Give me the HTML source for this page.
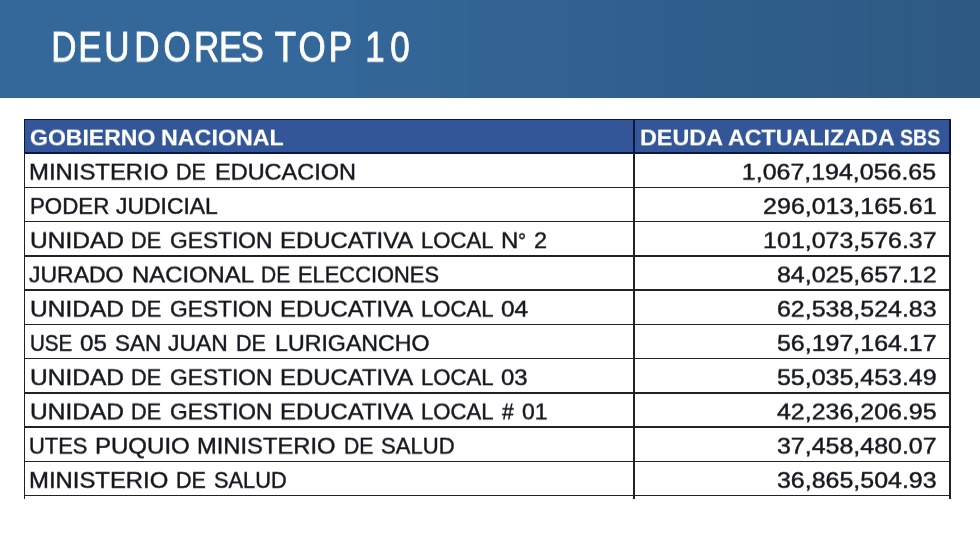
<!DOCTYPE html>
<html lang="es"><head><meta charset="utf-8"><title>DEUDORES TOP 10</title>
<style>
html,body{margin:0;padding:0;background:#fff}
html{width:980px;height:543px;overflow:hidden}
body{width:980px;height:543px;position:relative;overflow:hidden;font-family:"Liberation Sans",sans-serif}
.banner{position:absolute;left:0;top:0;width:980px;height:97.6px;background:linear-gradient(90deg,#34689b 0,#34689b 30%,#326392 51%,#2f5d8a 78%,#2d5983 100%)}
.t{position:absolute;white-space:pre;transform-origin:0 0;line-height:1em}
.n{position:absolute;white-space:pre;transform-origin:100% 0;line-height:1em;color:#15171f;-webkit-text-stroke:0.45px #15171f}
.wc{position:absolute;left:0;top:0;width:980px;height:560px;overflow:hidden;transform-origin:0 0;will-change:transform}
.hdr{position:absolute;background:#335698}
.ln{position:absolute;background:#222}
</style></head><body>
<div class="banner"></div>
<div class="hdr" style="left:24.5px;top:119.3px;width:925.5px;height:33.8px"></div>
<div class="ln" style="left:23.75px;top:118.55px;width:927.00px;height:1.5px;background:#0c1640"></div>
<div class="ln" style="left:23.75px;top:152.35px;width:927.00px;height:1.5px;background:#0c1640"></div>
<div class="ln" style="left:23.75px;top:186.60px;width:927.00px;height:1.5px;background:#222"></div>
<div class="ln" style="left:23.75px;top:220.85px;width:927.00px;height:1.5px;background:#222"></div>
<div class="ln" style="left:23.75px;top:255.10px;width:927.00px;height:1.5px;background:#222"></div>
<div class="ln" style="left:23.75px;top:289.35px;width:927.00px;height:1.5px;background:#222"></div>
<div class="ln" style="left:23.75px;top:323.60px;width:927.00px;height:1.5px;background:#222"></div>
<div class="ln" style="left:23.75px;top:357.85px;width:927.00px;height:1.5px;background:#222"></div>
<div class="ln" style="left:23.75px;top:392.10px;width:927.00px;height:1.5px;background:#222"></div>
<div class="ln" style="left:23.75px;top:426.35px;width:927.00px;height:1.5px;background:#222"></div>
<div class="ln" style="left:23.75px;top:460.60px;width:927.00px;height:1.5px;background:#222"></div>
<div class="ln" style="left:23.75px;top:494.85px;width:927.00px;height:1.5px;background:#222"></div>
<div class="ln" style="left:23.75px;top:153.10px;width:1.5px;height:345.50px"></div>
<div class="ln" style="left:23.75px;top:118.55px;width:1.5px;height:34.55px;background:#0c1640"></div>
<div class="ln" style="left:633.45px;top:153.10px;width:1.5px;height:345.50px"></div>
<div class="ln" style="left:633.45px;top:118.55px;width:1.5px;height:34.55px;background:#0c1640"></div>
<div class="ln" style="left:949.25px;top:153.10px;width:1.5px;height:345.50px"></div>
<div class="ln" style="left:949.25px;top:118.55px;width:1.5px;height:34.55px;background:#0c1640"></div>
<div class="wc" style="height:110px;transform:scaleY(0.945)">
<svg width="980" height="110" viewBox="0 0 980 110" style="position:absolute;left:0;top:0;overflow:visible"><text transform="scale(0.7947,1)" x="64.53 98.44 131.28 168.97 205.65 243.97 275.61 302.59 324.10 345.61 375.59 413.83 436.69 459.55 491.07" y="65" font-family="Liberation Sans, sans-serif" font-size="44.0" fill="#fff" stroke="#fff" stroke-width="0.9">DEUDORES TOP 10</text></svg>
</div>
<div class="wc" style="transform:scaleY(0.92568)">
<div class="r"><span class="t" style="left:30.09px;top:138px;font-size:23.4px;font-weight:700;color:#fff;transform:scaleX(0.9837);-webkit-text-stroke:0.15px #fff">GOBIERNO</span> <span class="t" style="left:161.48px;top:138px;font-size:23.4px;font-weight:700;color:#fff;transform:scaleX(0.9951);-webkit-text-stroke:0.15px #fff">NACIONAL</span></div>
<div class="r"><span class="t" style="left:639.88px;top:138px;font-size:23.4px;font-weight:700;color:#fff;transform:scaleX(0.9981);-webkit-text-stroke:0.15px #fff">DEUDA</span> <span class="t" style="left:728.43px;top:138px;font-size:23.4px;font-weight:700;color:#fff;transform:scaleX(0.9946);-webkit-text-stroke:0.15px #fff">ACTUALIZADA</span> <span class="t" style="left:900.45px;top:138px;font-size:23.4px;font-weight:700;color:#fff;transform:scaleX(0.8376);-webkit-text-stroke:0.15px #fff">SBS</span></div>
<div class="r"><span class="t" style="left:29.38px;top:175px;font-size:23.4px;font-weight:400;color:#15171f;transform:scaleX(1.0210);-webkit-text-stroke:0.45px #15171f">MINISTERIO</span> <span class="t" style="left:176.48px;top:175px;font-size:23.4px;font-weight:400;color:#15171f;transform:scaleX(0.9203);-webkit-text-stroke:0.45px #15171f">DE</span> <span class="t" style="left:214.62px;top:175px;font-size:23.4px;font-weight:400;color:#15171f;transform:scaleX(1.0048);-webkit-text-stroke:0.45px #15171f">EDUCACION</span></div>
<div class="r"><span class="n" style="right:43.72px;top:175px;font-size:23.4px;transform:scaleX(1.0669)">1,067,194,056.65</span></div>
<div class="r"><span class="t" style="left:29.72px;top:212px;font-size:23.4px;font-weight:400;color:#15171f;transform:scaleX(0.9531);-webkit-text-stroke:0.45px #15171f">PODER</span> <span class="t" style="left:115.74px;top:212px;font-size:23.4px;font-weight:400;color:#15171f;transform:scaleX(0.9796);-webkit-text-stroke:0.45px #15171f">JUDICIAL</span></div>
<div class="r"><span class="n" style="right:43.72px;top:212px;font-size:23.4px;transform:scaleX(1.0669)">296,013,165.61</span></div>
<div class="r"><span class="t" style="left:29.59px;top:249px;font-size:23.4px;font-weight:400;color:#15171f;transform:scaleX(1.0484);-webkit-text-stroke:0.45px #15171f">UNIDAD</span> <span class="t" style="left:131.27px;top:249px;font-size:23.4px;font-weight:400;color:#15171f;transform:scaleX(0.9271);-webkit-text-stroke:0.45px #15171f">DE</span> <span class="t" style="left:169.71px;top:249px;font-size:23.4px;font-weight:400;color:#15171f;transform:scaleX(0.9730);-webkit-text-stroke:0.45px #15171f">GESTION</span> <span class="t" style="left:279.68px;top:249px;font-size:23.4px;font-weight:400;color:#15171f;transform:scaleX(1.0218);-webkit-text-stroke:0.45px #15171f">EDUCATIVA</span> <span class="t" style="left:421.23px;top:249px;font-size:23.4px;font-weight:400;color:#15171f;transform:scaleX(0.9453);-webkit-text-stroke:0.45px #15171f">LOCAL</span> <span class="t" style="left:500.77px;top:249px;font-size:23.4px;font-weight:400;color:#15171f;transform:scaleX(1.0269);-webkit-text-stroke:0.45px #15171f">N</span><span class="t" style="left:518.22px;top:249px;font-size:23.4px;font-weight:400;color:#15171f;transform:scaleX(0.8692);-webkit-text-stroke:0.45px #15171f">°</span> <span class="t" style="left:533.67px;top:249px;font-size:23.4px;font-weight:400;color:#15171f;transform:scaleX(1.0048);-webkit-text-stroke:0.45px #15171f">2</span></div>
<div class="r"><span class="n" style="right:43.72px;top:249px;font-size:23.4px;transform:scaleX(1.0669)">101,073,576.37</span></div>
<div class="r"><span class="t" style="left:29.43px;top:286px;font-size:23.4px;font-weight:400;color:#15171f;transform:scaleX(0.9815);-webkit-text-stroke:0.45px #15171f">JURADO</span> <span class="t" style="left:131.78px;top:286px;font-size:23.4px;font-weight:400;color:#15171f;transform:scaleX(1.0206);-webkit-text-stroke:0.45px #15171f">NACIONAL</span> <span class="t" style="left:260.53px;top:286px;font-size:23.4px;font-weight:400;color:#15171f;transform:scaleX(0.8966);-webkit-text-stroke:0.45px #15171f">DE</span> <span class="t" style="left:298.35px;top:286px;font-size:23.4px;font-weight:400;color:#15171f;transform:scaleX(0.9350);-webkit-text-stroke:0.45px #15171f">ELECCIONES</span></div>
<div class="r"><span class="n" style="right:43.72px;top:286px;font-size:23.4px;transform:scaleX(1.0669)">84,025,657.12</span></div>
<div class="r"><span class="t" style="left:29.59px;top:323px;font-size:23.4px;font-weight:400;color:#15171f;transform:scaleX(1.0484);-webkit-text-stroke:0.45px #15171f">UNIDAD</span> <span class="t" style="left:131.27px;top:323px;font-size:23.4px;font-weight:400;color:#15171f;transform:scaleX(0.9271);-webkit-text-stroke:0.45px #15171f">DE</span> <span class="t" style="left:169.71px;top:323px;font-size:23.4px;font-weight:400;color:#15171f;transform:scaleX(0.9730);-webkit-text-stroke:0.45px #15171f">GESTION</span> <span class="t" style="left:279.68px;top:323px;font-size:23.4px;font-weight:400;color:#15171f;transform:scaleX(1.0218);-webkit-text-stroke:0.45px #15171f">EDUCATIVA</span> <span class="t" style="left:421.23px;top:323px;font-size:23.4px;font-weight:400;color:#15171f;transform:scaleX(0.9453);-webkit-text-stroke:0.45px #15171f">LOCAL</span> <span class="t" style="left:501.28px;top:323px;font-size:23.4px;font-weight:400;color:#15171f;transform:scaleX(1.0454);-webkit-text-stroke:0.45px #15171f">04</span></div>
<div class="r"><span class="n" style="right:43.72px;top:323px;font-size:23.4px;transform:scaleX(1.0669)">62,538,524.83</span></div>
<div class="r"><span class="t" style="left:29.89px;top:360px;font-size:23.4px;font-weight:400;color:#15171f;transform:scaleX(0.8785);-webkit-text-stroke:0.45px #15171f">USE</span> <span class="t" style="left:80.29px;top:360px;font-size:23.4px;font-weight:400;color:#15171f;transform:scaleX(1.0354);-webkit-text-stroke:0.45px #15171f">05</span> <span class="t" style="left:115.02px;top:360px;font-size:23.4px;font-weight:400;color:#15171f;transform:scaleX(0.9611);-webkit-text-stroke:0.45px #15171f">SAN</span> <span class="t" style="left:168.34px;top:360px;font-size:23.4px;font-weight:400;color:#15171f;transform:scaleX(0.9762);-webkit-text-stroke:0.45px #15171f">JUAN</span> <span class="t" style="left:235.78px;top:360px;font-size:23.4px;font-weight:400;color:#15171f;transform:scaleX(0.9203);-webkit-text-stroke:0.45px #15171f">DE</span> <span class="t" style="left:275.24px;top:360px;font-size:23.4px;font-weight:400;color:#15171f;transform:scaleX(0.9915);-webkit-text-stroke:0.45px #15171f">LURIGANCHO</span></div>
<div class="r"><span class="n" style="right:43.72px;top:360px;font-size:23.4px;transform:scaleX(1.0669)">56,197,164.17</span></div>
<div class="r"><span class="t" style="left:29.59px;top:397px;font-size:23.4px;font-weight:400;color:#15171f;transform:scaleX(1.0484);-webkit-text-stroke:0.45px #15171f">UNIDAD</span> <span class="t" style="left:131.27px;top:397px;font-size:23.4px;font-weight:400;color:#15171f;transform:scaleX(0.9271);-webkit-text-stroke:0.45px #15171f">DE</span> <span class="t" style="left:169.71px;top:397px;font-size:23.4px;font-weight:400;color:#15171f;transform:scaleX(0.9730);-webkit-text-stroke:0.45px #15171f">GESTION</span> <span class="t" style="left:279.68px;top:397px;font-size:23.4px;font-weight:400;color:#15171f;transform:scaleX(1.0218);-webkit-text-stroke:0.45px #15171f">EDUCATIVA</span> <span class="t" style="left:421.23px;top:397px;font-size:23.4px;font-weight:400;color:#15171f;transform:scaleX(0.9453);-webkit-text-stroke:0.45px #15171f">LOCAL</span> <span class="t" style="left:501.30px;top:397px;font-size:23.4px;font-weight:400;color:#15171f;transform:scaleX(1.0229);-webkit-text-stroke:0.45px #15171f">03</span></div>
<div class="r"><span class="n" style="right:43.72px;top:397px;font-size:23.4px;transform:scaleX(1.0669)">55,035,453.49</span></div>
<div class="r"><span class="t" style="left:29.59px;top:434px;font-size:23.4px;font-weight:400;color:#15171f;transform:scaleX(1.0484);-webkit-text-stroke:0.45px #15171f">UNIDAD</span> <span class="t" style="left:131.27px;top:434px;font-size:23.4px;font-weight:400;color:#15171f;transform:scaleX(0.9271);-webkit-text-stroke:0.45px #15171f">DE</span> <span class="t" style="left:169.71px;top:434px;font-size:23.4px;font-weight:400;color:#15171f;transform:scaleX(0.9730);-webkit-text-stroke:0.45px #15171f">GESTION</span> <span class="t" style="left:279.68px;top:434px;font-size:23.4px;font-weight:400;color:#15171f;transform:scaleX(1.0218);-webkit-text-stroke:0.45px #15171f">EDUCATIVA</span> <span class="t" style="left:421.23px;top:434px;font-size:23.4px;font-weight:400;color:#15171f;transform:scaleX(0.9453);-webkit-text-stroke:0.45px #15171f">LOCAL</span> <span class="t" style="left:501.62px;top:434px;font-size:23.4px;font-weight:400;color:#15171f;transform:scaleX(0.9038);-webkit-text-stroke:0.45px #15171f">#</span> <span class="t" style="left:521.84px;top:434px;font-size:23.4px;font-weight:400;color:#15171f;transform:scaleX(0.9832);-webkit-text-stroke:0.45px #15171f">01</span></div>
<div class="r"><span class="n" style="right:43.72px;top:434px;font-size:23.4px;transform:scaleX(1.0669)">42,236,206.95</span></div>
<div class="r"><span class="t" style="left:29.29px;top:471px;font-size:23.4px;font-weight:400;color:#15171f;transform:scaleX(0.9370);-webkit-text-stroke:0.45px #15171f">UTES</span> <span class="t" style="left:94.57px;top:471px;font-size:23.4px;font-weight:400;color:#15171f;transform:scaleX(1.0269);-webkit-text-stroke:0.45px #15171f">PUQUIO</span> <span class="t" style="left:197.49px;top:471px;font-size:23.4px;font-weight:400;color:#15171f;transform:scaleX(1.0150);-webkit-text-stroke:0.45px #15171f">MINISTERIO</span> <span class="t" style="left:343.92px;top:471px;font-size:23.4px;font-weight:400;color:#15171f;transform:scaleX(0.9034);-webkit-text-stroke:0.45px #15171f">DE</span> <span class="t" style="left:381.15px;top:471px;font-size:23.4px;font-weight:400;color:#15171f;transform:scaleX(0.9432);-webkit-text-stroke:0.45px #15171f">SALUD</span></div>
<div class="r"><span class="n" style="right:43.72px;top:471px;font-size:23.4px;transform:scaleX(1.0669)">37,458,480.07</span></div>
<div class="r"><span class="t" style="left:29.38px;top:508px;font-size:23.4px;font-weight:400;color:#15171f;transform:scaleX(1.0210);-webkit-text-stroke:0.45px #15171f">MINISTERIO</span> <span class="t" style="left:176.48px;top:508px;font-size:23.4px;font-weight:400;color:#15171f;transform:scaleX(0.9203);-webkit-text-stroke:0.45px #15171f">DE</span> <span class="t" style="left:214.46px;top:508px;font-size:23.4px;font-weight:400;color:#15171f;transform:scaleX(0.9314);-webkit-text-stroke:0.45px #15171f">SALUD</span></div>
<div class="r"><span class="n" style="right:43.72px;top:508px;font-size:23.4px;transform:scaleX(1.0669)">36,865,504.93</span></div>
</div>
</body></html>
